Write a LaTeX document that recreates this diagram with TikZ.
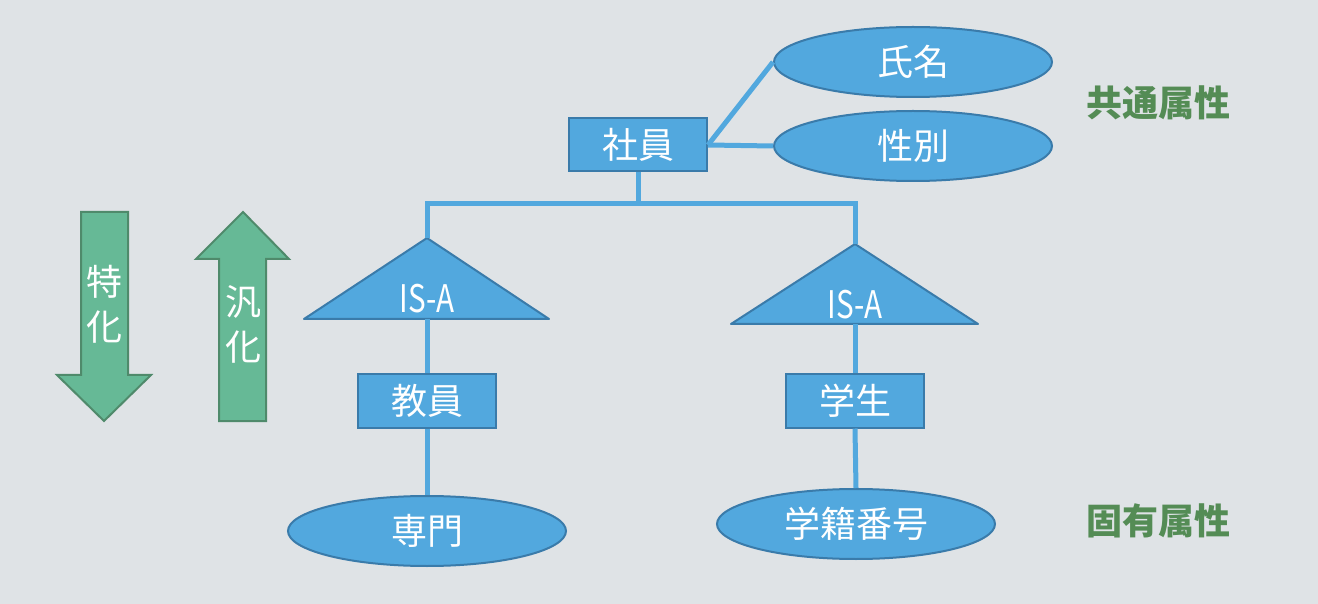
\documentclass[tikz,border=0pt]{standalone}
\usepackage{fontspec}
\setmainfont{Noto Sans CJK JP}
\newfontfamily\isafont[FakeStretch=0.78]{Noto Sans CJK JP}
\usepackage{xcolor}
\usetikzlibrary{shapes.geometric,shapes.arrows}
\definecolor{bgcol}{HTML}{DFE3E6}
\definecolor{boxfill}{HTML}{52A8DE}
\definecolor{boxline}{HTML}{3A7BAA}
\definecolor{arrfill}{HTML}{66B996}
\definecolor{arrline}{HTML}{4F8A6B}
\definecolor{attrtext}{HTML}{548C55}
\tikzset{
  entity/.style={draw=boxline,fill=boxfill,line width=1pt,minimum width=69pt,minimum height=26.5pt,inner sep=0pt,text=white,font=\fontsize{18}{18}\selectfont},
  attr/.style={ellipse,draw=boxline,fill=boxfill,line width=1pt,minimum width=139pt,minimum height=35pt,inner sep=0pt,text=white,font=\fontsize{18}{18}\selectfont},
  link/.style={boxfill,line width=2.5pt},
  isa/.style={draw=boxline,fill=boxfill,line width=1pt,line join=round},
  isatext/.style={text=white,inner sep=0pt,font=\isafont\fontsize{19}{19}\selectfont},
  bigarrow/.style={draw=arrline,fill=arrfill,line width=1pt},
  vtext/.style={text=white,align=center,font=\fontsize{18}{22.5}\selectfont},
  kind/.style={text=attrtext,font=\fontsize{18}{18}\selectfont\bfseries}
}
\begin{document}
\begin{tikzpicture}[x=0.5pt,y=-0.5pt]
  \fill[bgcol] (0,0) rectangle (1318,604);
  \useasboundingbox (0,0) rectangle (1318,604);
  % arrows on the left
  \draw[bigarrow] (81,212) -- (128,212) -- (128,375) -- (151,375) -- (104,421) -- (57,375) -- (81,375) -- cycle;
  \draw[bigarrow] (219,421) -- (266,421) -- (266,259) -- (289,259) -- (243,212) -- (196,259) -- (219,259) -- cycle;
  \node[vtext] (tokka) at (104,304) {特\\化};
  \node[vtext] (hanka) at (243,324) {汎\\化};
  % triangles
  \coordinate (topL) at (427,238);
  \coordinate (topR) at (855,244);
  \coordinate (baseL) at (427,319);
  \coordinate (baseR) at (855,324);
  \draw[isa] (topL) -- (549,319) -- (304,319) -- cycle;
  \draw[isa] (topR) -- (978,324) -- (731,324) -- cycle;
  \node[isatext,anchor=base] (isaL) at (427,313) {IS-A};
  \node[isatext,anchor=base] (isaR) at (855,319) {IS-A};
  % entities and attributes
  \node[entity] (shain) at (638,145) {社員};
  \node[entity] (kyoin) at (427,401) {教員};
  \node[entity] (gakusei) at (855,401) {学生};
  \node[attr] (shimei) at (913,62) {氏名};
  \node[attr] (seibetsu) at (913,146) {性別};
  \node[attr] (senmon) at (427,531) {専門};
  \node[attr] (bango) at (856,524) {学籍番号};
  \node[kind] (kyotsu) at (1158,103) {共通属性};
  \node[kind] (koyu) at (1158,521) {固有属性};
  % links
  \coordinate (fork) at (638,204);
  \draw[link] (shain.east) -- (shimei.west);
  \draw[link] (shain.east) -- (seibetsu.west);
  \draw[link] (shain.south) -- (fork);
  \draw[link] (topL) |- (fork) -| (topR);
  \draw[link] (baseL) -- (kyoin.north);
  \draw[link] (baseR) -- (gakusei.north);
  \draw[link] (kyoin.south) -- (senmon.north);
  \draw[link] (gakusei.south) -- (bango.north);
\end{tikzpicture}
\end{document}
